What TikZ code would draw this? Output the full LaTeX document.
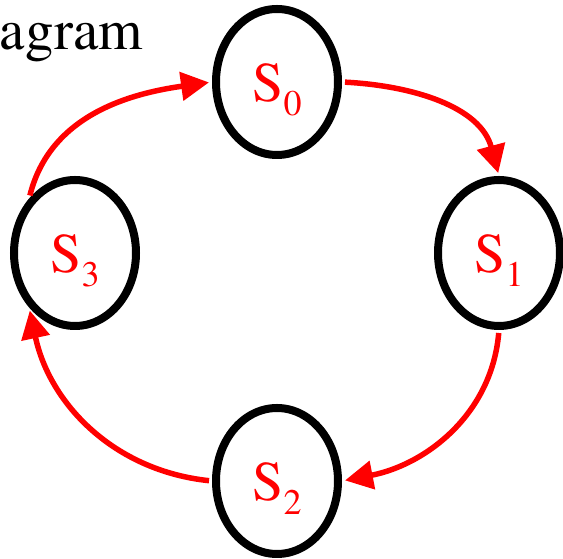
\documentclass[tikz,border=0pt]{standalone}
\usepackage{fontspec}
\setmainfont{TeX Gyre Termes}
\usetikzlibrary{shapes.geometric, arrows.meta, positioning}
\tikzset{
  statenode/.style={
    ellipse, draw=black, line width=8pt,
    minimum width=122pt, minimum height=146pt,
    inner sep=0pt, text height=45pt, text depth=5pt,
    text=red, font=\fontsize{56}{56}\selectfont,
  },
  arrow/.style={-{Triangle[length=28pt, width=28pt]}, line width=5.5pt, color=red,
    shorten <=3pt, shorten >=3pt},
  title/.style={inner sep=0pt, font=\fontsize{57}{57}\selectfont},
}
\newcommand{\statelbl}[1]{S\raisebox{-14pt}{\fontsize{36}{36}\selectfont #1}}

\begin{document}
\begin{tikzpicture}[x=1pt, y=1pt]
  \useasboundingbox (0,0) rectangle (563,559);

  \node[title, anchor=base east] (heading) at (143,509) {agram};

  \node[statenode] (s0) at (277,477) {\statelbl{0}};
  \node[statenode] (s1) at (499,306) {\statelbl{1}};
  \node[statenode] (s2) at (277,78) {\statelbl{2}};
  \node[statenode] (s3) at (75,306) {\statelbl{3}};

  \draw[arrow] (s0.east) to[out=-3, in=105] (s1.north);
  \draw[arrow] (s1.south) to[out=-95, in=11] (s2.east);
  \draw[arrow] (s2.west) to[out=174, in=-78] (s3.-130);
  \draw[arrow] (s3.130) to[out=76, in=188] (s0.west);

\end{tikzpicture}
\end{document}
